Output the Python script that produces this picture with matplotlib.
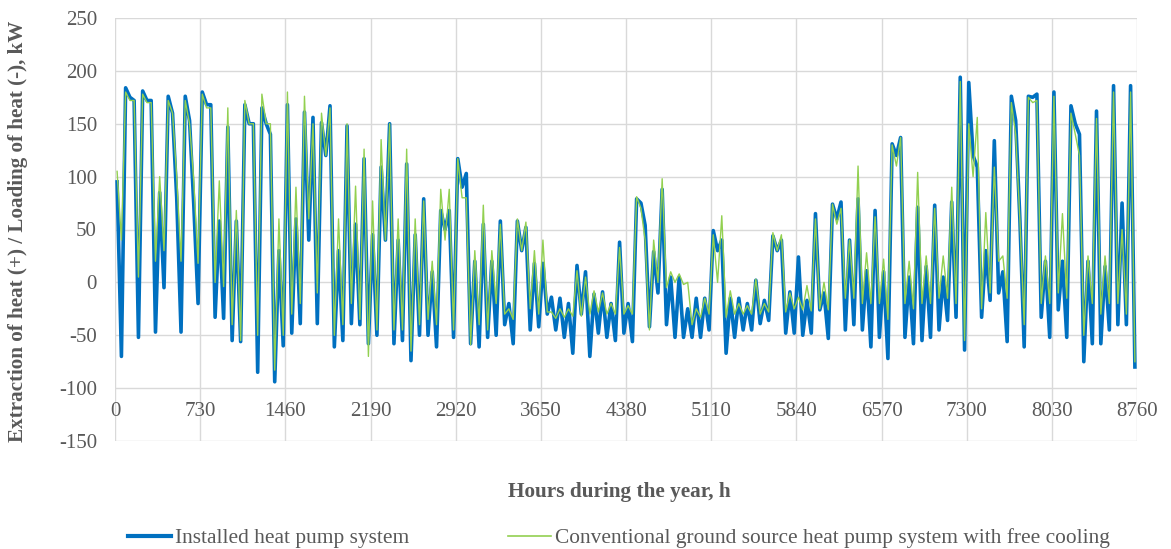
import numpy as np
import matplotlib
matplotlib.use('Agg')
import matplotlib.pyplot as plt
from matplotlib.lines import Line2D

# hourly loads, summarised per 73 h window (max / min in window)
window = 73
hours = np.arange(0, 8760, window)

blue_hi = [95, 184, 172, 181, 172, 85, 176, 80, 176, 74,
           180, 168, 58, 147, 58, 168, 150, 165, 140, 30,
           168, 60, 161, 156, 151, 167, 30, 148, 55, 117,
           45, 109, 150, 40, 112, 45, 79, 10, 68, 68,
           117, 103, 20, 55, 20, 58, -20, 58, 52, 18,
           18, -14, -15, -20, 16, 10, -11, -9, -20, 38,
           -20, 79, 54, 29, 88, 5, 5, -25, -15, -15,
           49, 40, -15, -15, -20, 2, -17, 44, 40, -9,
           24, -17, 65, -10, 74, 76, 40, 79, 11, 68,
           10, 131, 137, 5, 71, 15, 73, 5, 76, 194,
           189, 109, 30, 134, 10, 176, 60, 176, 178, 20,
           180, 20, 167, 140, 20, 162, 15, 186, 75, 186]
blue_lo = [-70, 175, -52, 172, -47, -5, 160, -47, 153, -20,
           168, -33, -34, -55, -56, 150, -85, 150, -94, -60,
           -48, -39, 40, -39, 120, -61, -55, -39, -40, -58,
           -50, 40, -58, -55, -74, -50, -50, -61, 50, -52,
           90, -58, -61, -52, -50, -40, -58, 30, -45, -42,
           -30, -45, -52, -67, -30, -70, -48, -52, -55, -48,
           -56, 75, -42, -10, -40, -52, -52, -52, -52, -45,
           30, -67, -52, -45, -45, -39, -36, 30, -48, -48,
           -50, -48, -26, -53, 60, -45, -40, -45, -61, -52,
           -72, 120, -52, -58, -55, -52, -45, -36, -33, -64,
           120, -33, -17, -10, -56, 153, -61, 175, -33, -52,
           -26, -52, 150, -75, -58, -58, -45, -40, -40, -80]

green_hi = [105, 180, 172, 178, 170, 100, 172, 100, 172, 96,
            178, 165, 96, 165, 68, 172, 150, 178, 150, 60,
            180, 90, 176, 150, 160, 165, 60, 150, 91, 126,
            77, 135, 150, 60, 126, 60, 77, 20, 88, 88,
            117, 80, 30, 73, 30, 55, -25, 60, 57, 30,
            40, -28, -25, -25, 11, 5, -8, -10, -20, 33,
            -22, 81, 40, 40, 98, 10, 8, 0, -25, -15,
            45, 63, -8, -20, -22, 3, -20, 47, 45, -10,
            -14, -3, 60, 0, 74, 70, 40, 110, 28, 62,
            22, 130, 137, 20, 104, 25, 70, 25, 90, 190,
            150, 156, 66, 109, 25, 170, 60, 175, 172, 25,
            176, 65, 160, 120, 25, 155, 25, 180, 50, 180]
green_lo = [40, 172, 5, 170, 20, 30, 160, 20, 150, 18,
            165, 0, -4, -40, -55, 150, -50, 150, -83, -50,
            -30, -20, 60, -10, 120, -50, -40, -20, -35, -70,
            -45, 40, -45, -45, -65, -40, -35, -40, 40, -45,
            80, -59, -40, -45, -20, -30, -35, 30, -25, -30,
            -28, -34, -33, -32, -32, -30, -28, -30, -30, -30,
            -30, 70, -45, 0, -5, 0, -2, -40, -33, -30,
            0, -33, -30, -30, -30, -30, -28, 30, -28, -25,
            -26, -27, -25, -26, 55, -15, -15, -20, -20, -20,
            -35, 110, -20, -25, -20, -20, -15, -15, -20, -55,
            100, -25, -10, 20, -15, 140, -40, 170, -20, -20,
            -10, -15, 140, -50, -20, -30, -20, -20, -30, -75]

x_ticks = list(range(0, 8761, 730))
y_ticks = list(range(-150, 251, 50))

blue = '#0070C0'
green = '#92D050'
grey = '#595959'

plt.rcParams['font.family'] = ['Liberation Serif', 'DejaVu Serif']
plt.rcParams['axes.unicode_minus'] = False

fig = plt.figure(figsize=(11.71, 5.49), dpi=100)
ax = fig.add_axes([115 / 1171, 1 - 441 / 549, 1022 / 1171, 423 / 549])

# each window: max first, then min
xs = np.column_stack((hours + 18, hours + 55)).ravel()
ax.plot(xs, np.column_stack((blue_hi, blue_lo)).ravel(), color=blue, lw=2.6)
ax.plot(xs, np.column_stack((green_hi, green_lo)).ravel(), color=green, lw=1.0)

ax.set_xlim(0, 8760)
ax.set_ylim(-150, 250)
ax.set_xticks(x_ticks)
ax.set_yticks(y_ticks)
ax.grid(True, color='#D9D9D9', lw=1)
ax.set_axisbelow(True)
for s in ax.spines.values():
    s.set_visible(False)
ax.tick_params(length=0, labelsize=15, labelcolor=grey)
ax.tick_params(axis='x', pad=-28)
ax.tick_params(axis='y', pad=13)

fig.text(18 / 1171, 1 - 231 / 549, 'Extraction of heat (+) / Loading of heat (-), kW',
         rotation=90, ha='center', va='center', fontsize=15.2, fontweight='bold', color=grey)
fig.text(619 / 1171, 1 - 492 / 549, 'Hours during the year, h',
         ha='center', va='center', fontsize=15.3, fontweight='bold', color=grey)

handles = [Line2D([], [], color=blue, lw=3), Line2D([], [], color=green, lw=1.2)]
labels = ['Installed heat pump system',
          'Conventional ground source heat pump system with free cooling']
fig.legend(handles, labels, loc='center', bbox_to_anchor=(619 / 1171, 1 - 538 / 549),
           ncol=2, frameon=False, fontsize=15.4, handlelength=2, handletextpad=0.2,
           columnspacing=4.6, labelcolor=grey)

fig.savefig('out.png', dpi=100)
